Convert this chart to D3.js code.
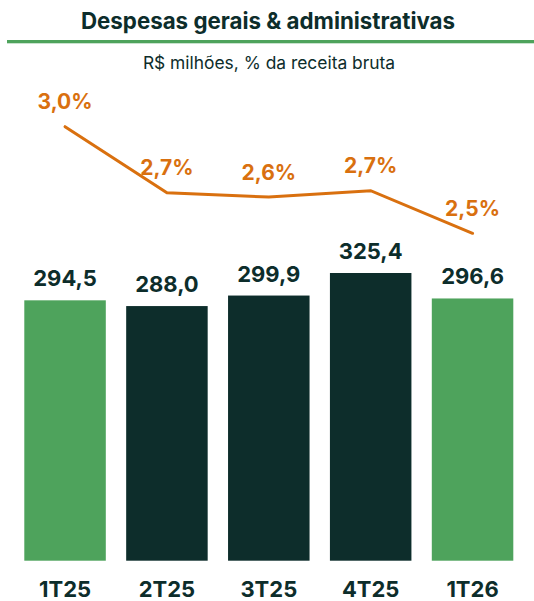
<!DOCTYPE html>
<html>
<head>
<meta charset="utf-8">
<script src="https://cdn.jsdelivr.net/npm/d3@7"></script>
<style>
  body { margin: 0; background: #fff; }
  svg { display: block; font-family: "Inter", "Noto Sans", sans-serif; }
</style>
</head>
<body>
<svg></svg>
<script>
const categories = ["1T25", "2T25", "3T25", "4T25", "1T26"]
const expenses = [294.5, 288.0, 299.9, 325.4, 296.6]
const pctRevenue = [3.0, 2.69, 2.67, 2.70, 2.50]
const pctLabels = ["3,0%", "2,7%", "2,6%", "2,7%", "2,5%"]
const highlight = ["1T25", "1T26"]

const width = 534, height = 601
const green = "#4ea35c", dark = "#0d2d2b", orange = "#d9700f"

const svg = d3.select("svg")
.attr("width", width)
.attr("height", height)

const x = d3.scaleBand()
.domain(categories)
.range([24.3, 513.3])
.paddingInner(0.2)
.paddingOuter(0)

const y = d3.scaleLinear()
.domain([0, 325.4])
.range([560.7, 273])

const yPct = d3.scaleLinear()
.domain([2.5, 3.0])
.range([233.3, 126.7])

const fmt = v => d3.format(".1f")(v).replace(".", ",")

// title block
svg.append("text")
.attr("x", 268).attr("y", 28.5)
.attr("text-anchor", "middle")
.style("font-size", "22.3px").style("font-weight", 700)
.style("fill", dark)
.text("Despesas gerais & administrativas")

svg.append("rect")
.attr("x", 7).attr("y", 40)
.attr("width", width - 7).attr("height", 3.3)
.style("fill", green)

svg.append("text")
.attr("x", 269).attr("y", 68.5)
.attr("text-anchor", "middle")
.style("font-size", "17.4px")
.style("fill", dark)
.text("R$ milhões, % da receita bruta")

// bars
const data = categories.map((c, i) => ({cat: c, value: expenses[i], pct: pctRevenue[i], label: pctLabels[i]}))

svg.selectAll("rect.bar")
.data(data)
.join("rect").classed("bar", true)
.attr("x", d => x(d.cat))
.attr("y", d => y(d.value))
.attr("width", x.bandwidth())
.attr("height", d => y(0) - y(d.value))
.style("fill", d => highlight.includes(d.cat) ? green : dark)

svg.selectAll("text.value")
.data(data)
.join("text").classed("value", true)
.attr("x", d => x(d.cat) + x.bandwidth() / 2)
.attr("y", d => y(d.value) - 14)
.attr("text-anchor", "middle")
.style("font-size", "22px").style("font-weight", 700)
.style("fill", dark)
.text(d => fmt(d.value))

// x labels
svg.selectAll("text.cat")
.data(data)
.join("text").classed("cat", true)
.attr("x", d => x(d.cat) + x.bandwidth() / 2)
.attr("y", 597)
.attr("text-anchor", "middle")
.style("font-size", "22px").style("font-weight", 700)
.style("fill", dark)
.text(d => d.cat)

// line
const line = d3.line()
.x(d => x(d.cat) + x.bandwidth() / 2)
.y(d => yPct(d.pct))

svg.append("path")
.datum(data)
.attr("d", line)
.style("fill", "none")
.style("stroke", orange)
.style("stroke-width", 3)
.style("stroke-linecap", "round")

svg.selectAll("text.pct")
.data(data)
.join("text").classed("pct", true)
.attr("x", d => x(d.cat) + x.bandwidth() / 2)
.attr("y", d => yPct(d.pct) - 17.5)
.attr("text-anchor", "middle")
.style("font-size", "21px").style("font-weight", 700)
.style("fill", orange)
.text(d => d.label)
</script>
</body>
</html>
